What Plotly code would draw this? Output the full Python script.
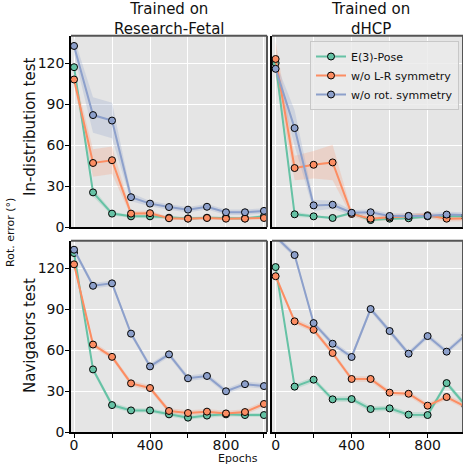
import plotly.graph_objects as go

W, H = 463, 466
epochs = [0, 100, 200, 300, 400, 500, 600, 700, 800, 900, 1000]
series_names = ["E(3)-Pose", "w/o L-R symmetry", "w/o rot. symmetry"]
colors = ["#66c2a5", "#fc8d62", "#8da0cb"]
band_colors = ["rgba(102,194,165,0.25)", "rgba(252,141,98,0.22)", "rgba(141,160,203,0.25)"]

# Research-Fetal, in-distribution
rf_in_mean = [
    [117, 25.5, 10, 8, 8, 7, 6.5, 7, 7, 6.5, 8],
    [108, 47, 49, 10, 10.3, 6.6, 6.3, 6.8, 6.3, 6.3, 6.8],
    [132.5, 82, 78, 22, 17.3, 14.8, 12.9, 15, 11, 11, 12],
]
rf_in_std = [
    [3, 3, 1.5, 1, 1, 1, 1, 1, 1, 1, 1],
    [5, 10, 10, 2, 2, 1, 1, 1, 1, 1, 1],
    [6, 13, 13, 3, 2, 2, 2, 2, 2, 2, 2],
]
# dHCP, in-distribution
dh_in_mean = [
    [120, 9.5, 8, 6.8, 10.4, 5.3, 6.3, 6.6, 8, 8.3, 8],
    [123, 43.3, 45.7, 47.4, 9.7, 6.3, 7.3, 8.3, 8.8, 6.3, 6.5],
    [115.8, 72.5, 16, 16.5, 10.6, 11, 8.3, 8.3, 8.3, 9.3, 9],
]
dh_in_std = [
    [5, 2, 1, 1, 1, 1, 1, 1, 1, 1, 1],
    [13, 9, 10, 13, 2, 2, 2, 2, 2, 2, 2],
    [5, 13, 4, 3, 2, 2, 2, 2, 2, 2, 2],
]
# Research-Fetal, navigators
rf_nav_mean = [
    [131, 45.8, 19.7, 15.8, 15.8, 12.9, 10.5, 12, 12.9, 12.4, 12.4],
    [122.7, 64, 55, 35.6, 32.2, 15.4, 13.9, 14.9, 13.6, 14.6, 20.5],
    [133.4, 107, 108.8, 72, 48, 56.8, 39.3, 41, 29.8, 35, 33.6],
]
rf_nav_std = [
    [2, 2, 2, 1.5, 1.5, 1.5, 1.5, 1.5, 1.5, 1.5, 1.5],
    [2, 2, 2, 2, 2, 2, 2, 2, 2, 2, 2],
    [2, 2, 2, 2, 2, 2, 2, 2, 2, 2, 2],
]
# dHCP, navigators
dh_nav_mean = [
    [120.7, 33.2, 38.3, 23.9, 24.1, 16.8, 17.3, 12.7, 12.4, 35.8, 19.4],
    [114, 81, 74.8, 57.8, 38.8, 38.8, 28.8, 28, 19.3, 25.6, 18.6],
    [143, 129.5, 79.7, 64.6, 54.9, 90, 73.9, 57.3, 70.2, 58.8, 71],
]
dh_nav_std = [
    [2, 2, 2, 2, 2, 2, 2, 2, 2, 2, 2],
    [2, 2, 2, 2, 2, 2, 2, 2, 2, 2, 2],
    [2, 2, 2, 2, 2, 2, 2, 2, 2, 2, 2],
]

col_titles = ["Trained on<br>Research-Fetal", "Trained on<br>dHCP"]
row_titles = ["In-distribution test", "Navigators test"]
y_ticks = [0, 30, 60, 90, 120]
x_ticks = [0, 200, 400, 600, 800, 1000]
x_ticktext = ["0", "", "400", "", "800", ""]

FONT = "DejaVu Sans"
fig = go.Figure()

panels = [
    ("x", "y", rf_in_mean, rf_in_std, True),
    ("x2", "y2", dh_in_mean, dh_in_std, False),
    ("x3", "y3", rf_nav_mean, rf_nav_std, False),
    ("x4", "y4", dh_nav_mean, dh_nav_std, False),
]

for xa, ya, means, stds, show_leg in panels:
    for i in range(3):
        up = [m + s for m, s in zip(means[i], stds[i])]
        lo = [m - s for m, s in zip(means[i], stds[i])]
        fig.add_trace(go.Scatter(
            x=epochs + epochs[::-1], y=up + lo[::-1], fill="toself",
            fillcolor=band_colors[i], line=dict(width=0), mode="lines",
            hoverinfo="skip", showlegend=False, xaxis=xa, yaxis=ya))
    for i in range(3):
        fig.add_trace(go.Scatter(
            x=epochs, y=means[i], mode="lines+markers", name=series_names[i],
            line=dict(color=colors[i], width=2),
            marker=dict(size=7, color=colors[i], line=dict(color="black", width=1)),
            showlegend=show_leg, xaxis=xa, yaxis=ya))


def px_x(v):
    return v / W


def px_y(v):
    return (H - v) / H


top_dom = [px_y(227.3), px_y(35.7)]
bot_dom = [px_y(432), px_y(240.7)]
left_dom = [px_x(71), px_x(267)]
right_dom = [px_x(272), 1.0]

xr_left = [-16, 1016]
xr_right = [-19, -19 + (463 - 272) / 0.19]

common_x = dict(showgrid=True, gridcolor="white", gridwidth=1, zeroline=False,
                tickvals=x_ticks, ticktext=x_ticktext, showline=True,
                linecolor="black", linewidth=1.5, automargin=False,
                tickfont=dict(size=14, color="#111", family=FONT))
common_y = dict(showgrid=True, gridcolor="white", gridwidth=1, zeroline=False,
                tickvals=y_ticks, range=[0, 140], showline=True,
                linecolor="black", linewidth=1.5, automargin=False,
                tickfont=dict(size=14, color="#111", family=FONT))

fig.update_layout(
    width=W, height=H, margin=dict(l=0, r=0, t=0, b=0, autoexpand=False),
    paper_bgcolor="white", plot_bgcolor="#e5e5e5",
    font=dict(family=FONT, color="#111"),
    xaxis=dict(domain=left_dom, anchor="y", range=xr_left, showticklabels=False, ticks="", **common_x),
    yaxis=dict(domain=top_dom, anchor="x", ticks="outside", ticklen=4, tickcolor="black",
               ticklabelstandoff=-2, **common_y),
    xaxis2=dict(domain=right_dom, anchor="y2", range=xr_right, showticklabels=False, ticks="", **common_x),
    yaxis2=dict(domain=top_dom, anchor="x2", showticklabels=False, ticks="", **common_y),
    xaxis3=dict(domain=left_dom, anchor="y3", range=xr_left, showticklabels=True, ticks="outside",
                ticklen=4, tickcolor="black", ticklabelstandoff=-5, **common_x),
    yaxis3=dict(domain=bot_dom, anchor="x3", ticks="outside", ticklen=4, tickcolor="black",
                ticklabelstandoff=-2, **common_y),
    xaxis4=dict(domain=right_dom, anchor="y4", range=xr_right, showticklabels=True, ticks="outside",
                ticklen=4, tickcolor="black", ticklabelstandoff=-5, **common_x),
    yaxis4=dict(domain=bot_dom, anchor="x4", showticklabels=False, ticks="", **common_y),
    legend=dict(x=px_x(459), y=px_y(41), xanchor="right", yanchor="top",
                bgcolor="rgba(235,235,235,0.85)", bordercolor="#c8c8c8", borderwidth=1,
                font=dict(size=11, family=FONT, color="#111"),
                itemwidth=30, tracegroupgap=0),
)

# gray top/right spines
for xa, ya in [("x", "y"), ("x2", "y2"), ("x3", "y3"), ("x4", "y4")]:
    xd = "x domain" if xa == "x" else xa + " domain"
    yd = "y domain" if ya == "y" else ya + " domain"
    fig.add_shape(type="line", xref=xd, yref=yd, x0=0, x1=1, y0=1, y1=1,
                  line=dict(color="#555", width=2))
    fig.add_shape(type="line", xref=xd, yref=yd, x0=1, x1=1, y0=0, y1=1,
                  line=dict(color="#555", width=2))


def ann(text, x, y, size, angle=0):
    fig.add_annotation(text=text, x=px_x(x), y=px_y(y), xref="paper", yref="paper",
                       xanchor="center", yanchor="middle", showarrow=False,
                       textangle=angle, font=dict(size=size, family=FONT, color="#111"))


ann(col_titles[0], 169, 19, 15)
ann(col_titles[1], 370, 19, 15)
ann(row_titles[0], 30, 127, 15, -90)
ann(row_titles[1], 30, 336, 15, -90)
ann("Rot. error (°)", 10, 233, 11, -90)
ann("Epochs", 238, 458, 11)

fig.write_html("out.html")
